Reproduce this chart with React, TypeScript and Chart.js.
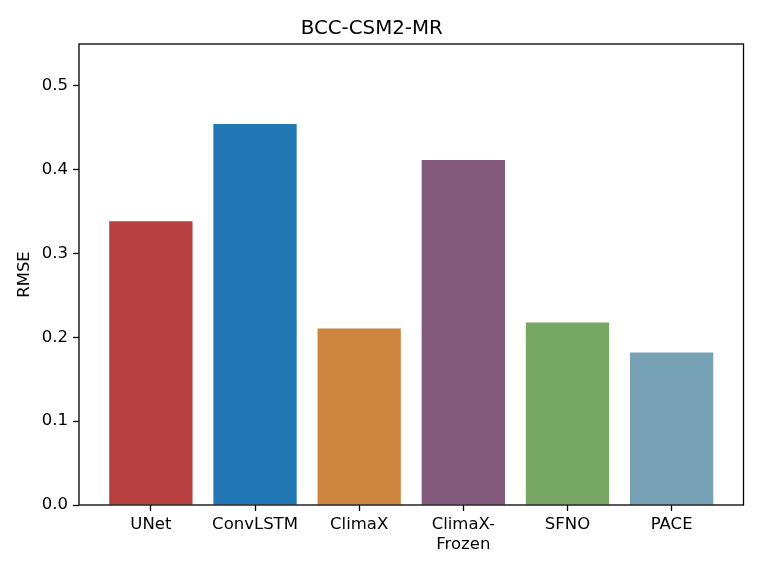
import React, { useEffect, useRef } from "react";
import { Chart, registerables } from "chart.js";

Chart.register(...registerables);

const categories: (string | string[])[] = ["UNet", "ConvLSTM", "ClimaX", ["ClimaX-", "Frozen"], "SFNO", "PACE"];
const rmseValues = [0.3385, 0.4545, 0.2105, 0.4115, 0.2177, 0.1818];
const barColors = ["#b94041", "#2077b4", "#cd853f", "#835a7b", "#75a763", "#77a1b5"];
const yTicks = [0, 0.1, 0.2, 0.3, 0.4, 0.5];

const FONT = "'DejaVu Sans', sans-serif";

const frame = {
  id: "frame",
  afterDatasetsDraw(chart: any) {
    const { ctx, chartArea } = chart;
    ctx.save();
    ctx.strokeStyle = "#000";
    ctx.lineWidth = 1.3;
    ctx.strokeRect(chartArea.left, chartArea.top, chartArea.right - chartArea.left, chartArea.bottom - chartArea.top);
    ctx.restore();
  },
};

export default function App() {
  const ref = useRef<HTMLCanvasElement>(null);
  useEffect(() => {
    const chart = new Chart(ref.current!, {
      type: "bar",
      data: {
        datasets: [
          {
            data: rmseValues.map((v, i) => ({ x: i, y: v })),
            backgroundColor: barColors,
            borderWidth: 0,
            categoryPercentage: 1,
            barPercentage: 0.8,
          },
        ],
      },
      options: {
        animation: false,
        responsive: false,
        layout: { padding: { left: 0, right: 17.5, top: 0, bottom: 0 } },
        plugins: {
          legend: { display: false },
          tooltip: { enabled: false },
          title: {
            display: true,
            text: "BCC-CSM2-MR",
            color: "#000",
            font: { family: FONT, size: 19.8, weight: "normal", lineHeight: 1.2 },
            padding: { top: 17, bottom: 3.24 },
          },
        },
        scales: {
          x: {
            type: "linear",
            min: -0.69,
            max: 5.69,
            offset: false,
            afterBuildTicks: (s: any) => {
              s.ticks = categories.map((_, i) => ({ value: i }));
            },
            afterFit: (s: any) => {
              s.height = 66;
            },
            ticks: {
              color: "#000",
              font: { family: FONT, size: 16.5, lineHeight: 1.2 },
              padding: 4,
              maxRotation: 0,
              autoSkip: false,
              callback: (v: any) => categories[v as number],
            },
            grid: { display: true, offset: false, drawOnChartArea: false, tickLength: 6, color: "#000", tickWidth: 1.3 },
            border: { display: false },
          },
          y: {
            min: 0,
            max: 0.55,
            afterBuildTicks: (s: any) => {
              s.ticks = yTicks.map((v) => ({ value: v }));
            },
            afterFit: (s: any) => {
              s.width = 79;
            },
            ticks: {
              color: "#000",
              font: { family: FONT, size: 16.5 },
              padding: 5,
              callback: (v: any) => Number(v).toFixed(1),
            },
            grid: { display: true, drawOnChartArea: false, tickLength: 6, color: "#000", tickWidth: 1.3 },
            border: { display: false },
            title: {
              display: true,
              text: "RMSE",
              color: "#000",
              font: { family: FONT, size: 16.5, lineHeight: 1.2 },
              padding: { top: 15, bottom: 0 },
            },
          },
        },
      },
      plugins: [frame],
    });
    return () => chart.destroy();
  }, []);
  return (
    <div style={{ position: "fixed", left: 0, top: 0, width: 761, height: 571, background: "#fff" }}>
      <canvas ref={ref} width={761} height={571} style={{ width: 761, height: 571 }} />
    </div>
  );
}
